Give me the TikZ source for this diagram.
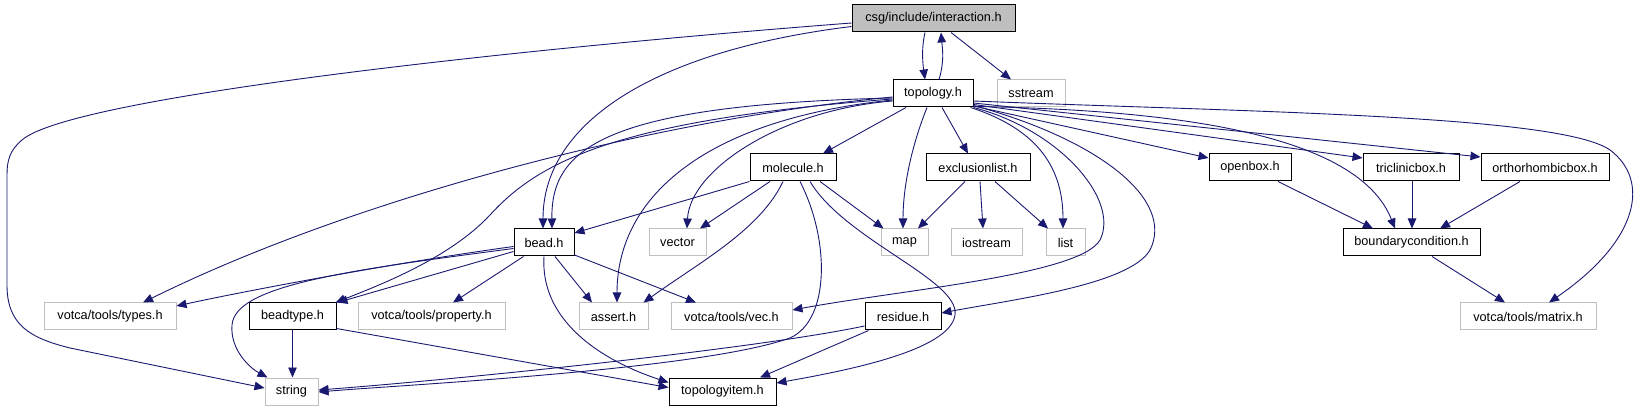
\documentclass[tikz,border=0pt]{standalone}
\usepackage{fontspec}
\setmainfont{Liberation Sans}
\usetikzlibrary{arrows.meta,calc}
\definecolor{edgecol}{HTML}{191970}
\definecolor{greybd}{HTML}{BFBFBF}
\begin{document}
\begin{tikzpicture}[x=1pt,y=-1pt,
  box/.style={rectangle,inner sep=0pt,minimum height=27pt,line width=1pt,font=\fontsize{12.7}{15}\selectfont},
  doc/.style={box,draw=black},
  ext/.style={box,draw=greybd},
  edge/.style={draw=edgecol,line width=0.9pt,-{Triangle[length=10pt,width=8.5pt]}}]
\useasboundingbox (0,0) rectangle (1635,411);
% nodes
\node[doc,fill=greybd,minimum width=163pt] (inter) at (933.5,18.5) {csg/include/interaction.h};
\node[doc,minimum width=80pt] (topo) at (933,93.5) {topology.h};
\node[ext,minimum width=68pt] (sstream) at (1031,93.5) {sstream};
\node[doc,minimum width=86pt] (molecule) at (793,167.5) {molecule.h};
\node[doc,minimum width=104pt] (excl) at (978,167.5) {exclusionlist.h};
\node[doc,minimum width=82pt] (openbox) at (1250,167.5) {openbox.h};
\node[doc,minimum width=96pt] (tric) at (1411,167.5) {triclinicbox.h};
\node[doc,minimum width=128pt] (ortho) at (1545,167.5) {orthorhombicbox.h};
\node[doc,minimum width=60pt] (bead) at (544,242.5) {bead.h};
\node[ext,minimum width=57pt] (vector) at (677.5,242.5) {vector};
\node[ext,minimum width=47pt] (map) at (904.5,242.5) {map};
\node[ext,minimum width=71pt] (iostream) at (986.5,242.5) {iostream};
\node[ext,minimum width=39pt] (list) at (1065.5,242.5) {list};
\node[doc,minimum width=137pt] (boundary) at (1411.5,242.5) {boundarycondition.h};
\node[ext,minimum width=132pt] (types) at (110,316.5) {votca/tools/types.h};
\node[doc,minimum width=87pt] (beadtype) at (292.5,316.5) {beadtype.h};
\node[ext,minimum width=147pt] (property) at (431.5,316.5) {votca/tools/property.h};
\node[ext,minimum width=69pt] (assert) at (613.5,316.5) {assert.h};
\node[ext,minimum width=121pt] (vec) at (731.5,316.5) {votca/tools/vec.h};
\node[doc,minimum width=76pt] (residue) at (903,316.5) {residue.h};
\node[ext,minimum width=136pt] (matrix) at (1528,316.5) {votca/tools/matrix.h};
\node[ext,minimum width=53pt] (string) at (291.5,391.5) {string};
\node[doc,minimum width=107pt] (topoitem) at (722.5,391.5) {topologyitem.h};
% interaction.h edges
\draw[edge] ($(inter.west)+(0,4.5)$) .. controls (500,50) and (70,98) .. (22,140) .. controls (10,150) and (7,160) .. (7,175) -- (7,285) .. controls (7,325) and (30,338) .. (70,348) -- ($(string.west)+(0,-3.5)$);
\draw[edge] ($(inter.west)+(0,8)$) .. controls (660,50) and (543,120) .. ($(bead.north)+(-1,0)$);
\draw[edge] ($(inter.south)+(-8.5,0)$) .. controls (921,50) and (923,65) .. ($(topo.north)+(-8,0)$);
\draw[edge] ($(topo.north)+(6,0)$) .. controls (945,60) and (942,45) .. ($(inter.south)+(7.5,0)$);
\draw[edge] ($(inter.south)+(17.5,0)$) -- ($(sstream.north)+(-20,0)$);
% topology.h edges
\draw[edge] ($(topo.west)+(0,3.5)$) .. controls (650,120) and (350,200) .. ($(types.north)+(33,0)$);
\draw[edge] ($(topo.west)+(0,4.5)$) .. controls (600,105) and (551,150) .. ($(bead.north)+(8,0)$);
\draw[edge] ($(topo.west)+(0,5.5)$) .. controls (620,120) and (540,160) .. (490,215) .. controls (450,258) and (380,285) .. ($(beadtype.north east)+(-1,0)$);
\draw[edge] ($(topo.west)+(0,6.5)$) .. controls (700,120) and (617,200) .. ($(assert.north)+(3.5,0)$);
\draw[edge] ($(topo.west)+(0,7.5)$) .. controls (780,110) and (690,170) .. ($(vector.north)+(9.5,0)$);
\draw[edge] ($(topo.south)+(-27,0)$) -- ($(molecule.north)+(30,0)$);
\draw[edge] ($(topo.south)+(-6,0)$) .. controls (910,150) and (903,190) .. ($(map.north)+(-1.5,0)$);
\draw[edge] ($(topo.south)+(9,0)$) -- ($(excl.north)+(-10,0)$);
\draw[edge] ($(topo.south east)+(-3,0)$) .. controls (1040,130) and (1063,170) .. ($(list.north)+(-2.5,0)$);
\draw[edge] ($(topo.south east)+(0,0)$) .. controls (1060,130) and (1120,200) .. (1100,240) .. controls (1080,275) and (900,290) .. ($(vec.east)+(0,-6.5)$);
\draw[edge] ($(topo.east)+(0,12)$) .. controls (1100,140) and (1175,200) .. (1150,250) .. controls (1130,285) and (1010,300) .. ($(residue.east)+(0,-3.5)$);
\draw[edge] ($(topo.east)+(0,12.5)$) -- ($(openbox.west)+(0,-9.5)$);
\draw[edge] ($(topo.east)+(0,11)$) -- ($(tric.west)+(0,-9.5)$);
\draw[edge] ($(topo.east)+(0,9.5)$) -- ($(ortho.west)+(0,-10.5)$);
\draw[edge] ($(topo.east)+(0,13)$) .. controls (1200,110) and (1360,140) .. ($(boundary.north)+(-16.5,0)$);
\draw[edge] ($(topo.east)+(0,7.5)$) .. controls (1250,112) and (1560,115) .. (1610,150) .. controls (1650,180) and (1640,240) .. ($(matrix.north)+(21,0)$);
% box edges
\draw[edge] ($(openbox.south)+(28,0)$) -- ($(boundary.north)+(-38.5,0)$);
\draw[edge] ($(tric.south)+(1,0)$) -- ($(boundary.north)+(0.5,0)$);
\draw[edge] ($(ortho.south)+(-25,0)$) -- ($(boundary.north)+(28.5,0)$);
\draw[edge] ($(boundary.south)+(20.5,0)$) -- ($(matrix.north)+(-23,0)$);
% molecule.h edges
\draw[edge] (molecule.south west) -- ($(bead.east)+(0,-9.5)$);
\draw[edge] ($(molecule.south)+(-23,0)$) -- ($(vector.north)+(22.5,0)$);
\draw[edge] ($(molecule.south)+(-10,0)$) .. controls (760,230) and (700,262) .. ($(assert.north east)+(-5,0)$);
\draw[edge] ($(molecule.south)+(7,0)$) .. controls (830,240) and (830,320) .. (790,338) .. controls (700,370) and (400,385) .. ($(string.east)+(0,0.5)$);
\draw[edge] ($(molecule.south)+(27,0)$) -- ($(map.north west)+(3,0)$);
\draw[edge] ($(molecule.south)+(17,0)$) .. controls (845,240) and (960,280) .. (955,315) .. controls (950,350) and (850,370) .. ($(topoitem.east)+(0,-8.5)$);
% exclusionlist.h edges
\draw[edge] ($(excl.south)+(-13,0)$) -- ($(map.north)+(13.5,0)$);
\draw[edge] ($(excl.south)+(2,0)$) -- ($(iostream.north)+(-3.5,0)$);
\draw[edge] ($(excl.south)+(17,0)$) -- ($(list.north)+(-17.5,0)$);
% bead.h edges
\draw[edge] ($(bead.west)+(0,4)$) .. controls (400,262) and (250,290) .. ($(types.east)+(0,-10.5)$);
\draw[edge] ($(bead.west)+(0,6)$) .. controls (350,270) and (235,285) .. (232,325) .. controls (230,350) and (250,368) .. ($(string.north west)+(3,0)$);
\draw[edge] ($(bead.west)+(0,9)$) -- ($(beadtype.north east)+(1,0)$);
\draw[edge] ($(bead.south west)+(10,0)$) -- ($(property.north)+(21.5,0)$);
\draw[edge] ($(bead.south)+(11,0)$) -- ($(assert.north)+(-21.5,0)$);
\draw[edge] ($(bead.east)+(0,12.5)$) -- ($(vec.north)+(-35.5,0)$);
\draw[edge] (bead.south) .. controls (540,320) and (600,360) .. ($(topoitem.west)+(0,-9)$);
% beadtype.h and residue.h edges
\draw[edge] (beadtype.south) -- ($(string.north)+(1,0)$);
\draw[edge] ($(beadtype.east)+(0,12)$) -- ($(topoitem.west)+(0,-4)$);
\draw[edge] ($(residue.west)+(0,9.5)$) .. controls (750,350) and (450,380) .. ($(string.east)+(0,-1.5)$);
\draw[edge] ($(residue.south west)+(4,0)$) -- ($(topoitem.north)+(37.5,0)$);
\end{tikzpicture}
\end{document}
